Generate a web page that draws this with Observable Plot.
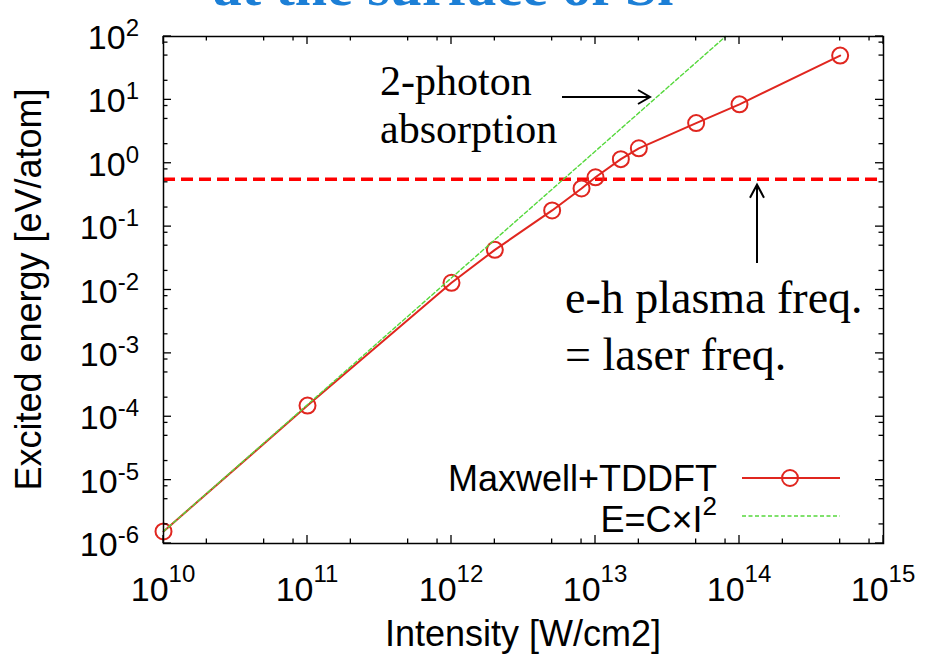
<!DOCTYPE html>
<html>
<head>
<meta charset="utf-8">
<script src="https://cdn.jsdelivr.net/npm/d3@7"></script>
<script src="https://cdn.jsdelivr.net/npm/@observablehq/plot@0.6"></script>
<style>
  html, body { margin: 0; padding: 0; background: #fff; }
  #chart { position: relative; width: 925px; height: 655px; overflow: hidden; }
</style>
</head>
<body>
<div id="chart"></div>
<script>
// Maxwell+TDDFT excitation energy versus laser intensity
const intensity = [1e10, 1e11, 1e12, 2e12, 5e12, 8e12, 1e13, 1.5e13, 2e13, 5e13, 1e14, 5e14];
const energy    = [1.55e-6, 1.5e-4, 0.013, 0.043, 0.18, 0.40, 0.60, 1.16, 1.72, 4.3, 8.5, 50];

// E = C x I^2 reference line (end points)
const fitIntensity = [1e10, 8e13];
const fitEnergy    = [1.55e-6, 100];

// energy at which the e-h plasma frequency equals the laser frequency
const plasmaEnergy = 0.56;

// axis decades and minor tick multipliers
const xTickExponents = [10, 11, 12, 13, 14, 15];
const yTickExponents = [-6, -5, -4, -3, -2, -1, 0, 1, 2];
const minorMultipliers = [2, 5, 8];

const seriesNames = ["Maxwell+TDDFT", "E=C\u00d7I"];
const xTitle = "Intensity [W/cm2]";
const yTitle = "Excited energy [eV/atom]";
const headline = "at the surface of Si";
const twoPhotonLabel = ["2-photon", "absorption"];
const plasmaLabel = ["e-h plasma freq.", "= laser freq."];

const measured = intensity.map((I, i) => ({I, E: energy[i]}));
const fit = fitIntensity.map((I, i) => ({I, E: fitEnergy[i]}));

const RED = "#e0261f";
const GREEN = "#55d83c";
const SANS = "'Liberation Sans', Arial, Helvetica, sans-serif";
const SERIF = "'Liberation Serif', 'Times New Roman', serif";

const chart = Plot.plot({
  width: 925,
  height: 655,
  marginLeft: 163,
  marginRight: 42,
  marginTop: 36,
  marginBottom: 112,
  style: {background: "white", fontFamily: SANS, overflow: "visible"},
  x: {type: "log", domain: [1e10, 1e15], axis: null},
  y: {type: "log", domain: [1e-6, 1e2], axis: null},
  marks: [
    Plot.ruleY([plasmaEnergy], {stroke: "#ff0000", strokeWidth: 3.4, strokeDasharray: "12,6"}),
    Plot.line(measured, {x: "I", y: "E", stroke: RED, strokeWidth: 2}),
    Plot.dot(measured, {x: "I", y: "E", r: 8, stroke: RED, strokeWidth: 2, fill: "none"}),
    Plot.line(fit, {x: "I", y: "E", stroke: GREEN, strokeWidth: 1.4, strokeDasharray: "4,2.5"}),
    Plot.frame({stroke: "#000", strokeWidth: 1.5})
  ]
});
document.getElementById("chart").appendChild(chart);

const sx = chart.scale("x").apply;
const sy = chart.scale("y").apply;
const [plotLeft, plotRight] = chart.scale("x").range;
const [plotBottom, plotTop] = chart.scale("y").range;
const svg = d3.select(chart);

// inward ticks on all four sides
const tickGroup = svg.append("g").attr("stroke", "#000").attr("stroke-width", 1.3).attr("fill", "none");
const MAJOR = 8, MINOR = 4.5;
function xTick(v, len) {
  const x = sx(v);
  tickGroup.append("line").attr("x1", x).attr("x2", x).attr("y1", plotBottom).attr("y2", plotBottom - len);
  tickGroup.append("line").attr("x1", x).attr("x2", x).attr("y1", plotTop).attr("y2", plotTop + len);
}
function yTick(v, len) {
  const y = sy(v);
  tickGroup.append("line").attr("y1", y).attr("y2", y).attr("x1", plotLeft).attr("x2", plotLeft + len);
  tickGroup.append("line").attr("y1", y).attr("y2", y).attr("x1", plotRight).attr("x2", plotRight - len);
}
xTickExponents.forEach((e, i) => {
  xTick(10 ** e, MAJOR);
  if (i < xTickExponents.length - 1) minorMultipliers.forEach(m => xTick(m * 10 ** e, MINOR));
});
yTickExponents.forEach((e, i) => {
  yTick(10 ** e, MAJOR);
  if (i < yTickExponents.length - 1) minorMultipliers.forEach(m => yTick(m * 10 ** e, MINOR));
});

// tick labels: 10 with a raised exponent
const labelGroup = svg.append("g").attr("fill", "#000").attr("font-family", SANS);
xTickExponents.forEach(e => {
  const t = labelGroup.append("text")
    .attr("x", sx(10 ** e)).attr("y", 601)
    .attr("text-anchor", "middle").attr("font-size", 34).text("10");
  t.append("tspan").attr("font-size", 24).attr("dy", -19).text(String(e));
});
yTickExponents.forEach(e => {
  const t = labelGroup.append("text")
    .attr("x", 139).attr("y", sy(10 ** e) + 13)
    .attr("text-anchor", "end").attr("font-size", 34).text("10");
  t.append("tspan").attr("font-size", 24).attr("dy", -13).text(String(e));
});

// axis titles
labelGroup.append("text")
  .attr("x", (plotLeft + plotRight) / 2).attr("y", 646)
  .attr("text-anchor", "middle").attr("font-size", 36).text(xTitle);
labelGroup.append("text")
  .attr("transform", `translate(41,${(plotTop + plotBottom) / 2}) rotate(-90)`)
  .attr("text-anchor", "middle").attr("font-size", 36).text(yTitle);

// headline, cut by the top edge
svg.append("text")
  .attr("x", 443).attr("y", 5)
  .attr("text-anchor", "middle")
  .attr("font-family", SERIF).attr("font-weight", "bold").attr("font-size", 58)
  .attr("fill", "#1c7fd6").text(headline);

// legend
const legend = svg.append("g").attr("font-family", SANS).attr("font-size", 36);
legend.append("text").attr("x", 717).attr("y", 491).attr("text-anchor", "end").text(seriesNames[0]);
legend.append("line").attr("x1", 742).attr("x2", 840).attr("y1", 478).attr("y2", 478)
  .attr("stroke", RED).attr("stroke-width", 2);
legend.append("circle").attr("cx", 790).attr("cy", 478).attr("r", 8)
  .attr("stroke", RED).attr("stroke-width", 2).attr("fill", "none");
const fitLabel = legend.append("text").attr("x", 717).attr("y", 532).attr("text-anchor", "end").text(seriesNames[1]);
fitLabel.append("tspan").attr("font-size", 26).attr("dy", -17).text("2");
legend.append("line").attr("x1", 742).attr("x2", 840).attr("y1", 516).attr("y2", 516)
  .attr("stroke", GREEN).attr("stroke-width", 1.6).attr("stroke-dasharray", "4,2.5");

// annotations
const notes = svg.append("g").attr("font-family", SERIF).attr("fill", "#000").attr("text-anchor", "start");
notes.append("text").attr("x", 380).attr("y", 95).attr("font-size", 42).text(twoPhotonLabel[0]);
notes.append("text").attr("x", 380).attr("y", 143).attr("font-size", 42).text(twoPhotonLabel[1]);
notes.append("text").attr("x", 565).attr("y", 313).attr("font-size", 46).text(plasmaLabel[0]);
notes.append("text").attr("x", 565).attr("y", 370).attr("font-size", 46).text(plasmaLabel[1]);

const arrows = svg.append("g").attr("stroke", "#000").attr("stroke-width", 2).attr("fill", "none");
// horizontal arrow towards the I^2 line
arrows.append("path").attr("d", "M562,97 H650 M638,90 L650,97 L638,104");
// vertical arrow up to the plasma line
const ay = sy(plasmaEnergy) + 6;
arrows.append("path").attr("d", `M757,263 V${ay} M750,${ay + 13} L757,${ay} L764,${ay + 13}`);
</script>
</body>
</html>
